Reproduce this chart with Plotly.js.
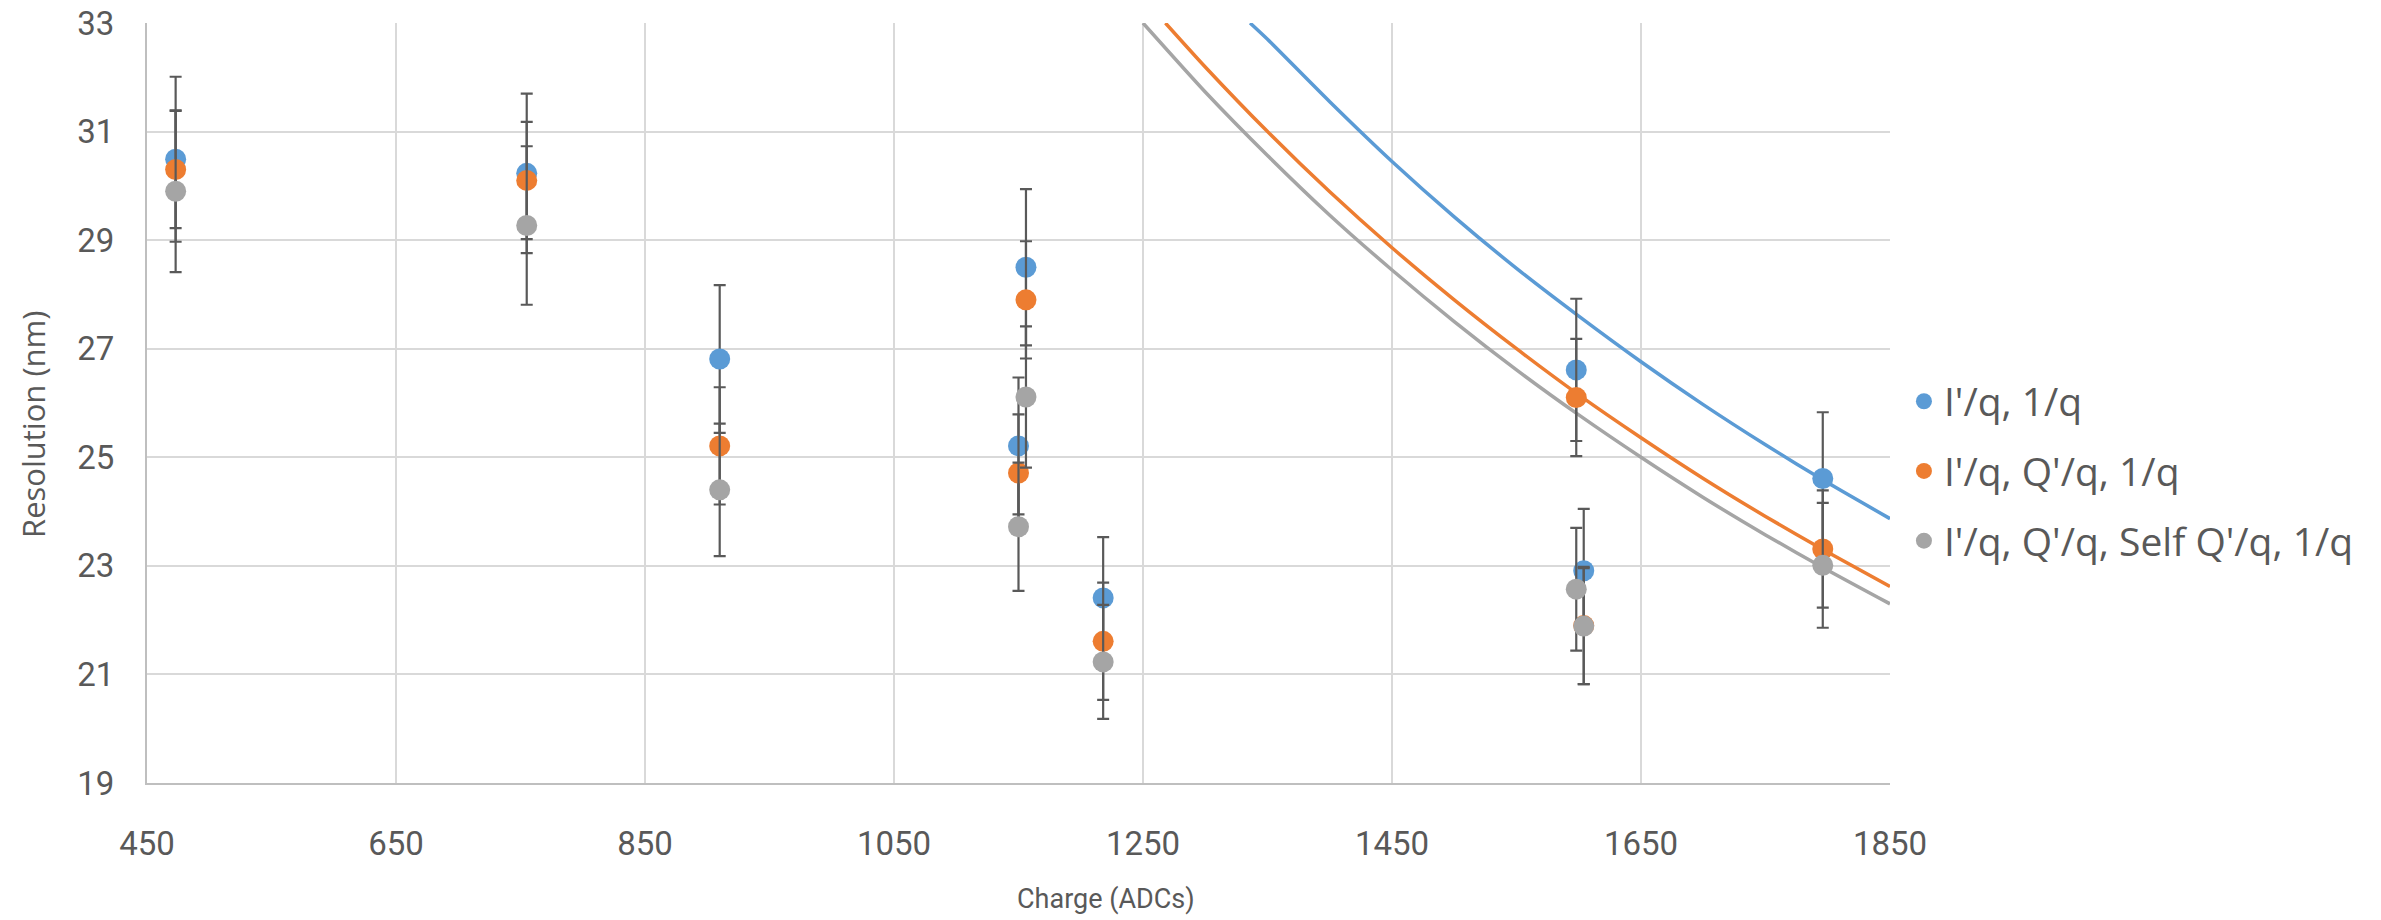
<!DOCTYPE html>
<html>
<head>
<meta charset="utf-8">
<script src="https://cdn.plot.ly/plotly-3.0.1.min.js"></script>
<style>
html, body { margin: 0; padding: 0; background: #ffffff; }
#chart { width: 2381px; height: 920px; }
</style>
</head>
<body>
<div id="chart"></div>
<script>
// ---- Data ----
const seriesNames = ["I'/q, 1/q", "I'/q, Q'/q, 1/q", "I'/q, Q'/q, Self Q'/q, 1/q"];

const chargeX = [473, 755, 910, 1156, 1150, 1218, 1598, 1604, 1796];

const blueY   = [30.49, 30.23, 26.81, 28.50, 25.21, 22.41, 26.61, 22.91, 24.61];
const blueErr = [1.52, 1.47, 1.36, 1.44, 1.26, 1.12, 1.31, 1.14, 1.22];

const orangeY   = [30.30, 30.10, 25.21, 27.90, 24.71, 21.61, 26.10, 21.90, 23.31];
const orangeErr = [1.08, 1.08, 1.08, 1.08, 1.08, 1.08, 1.08, 1.08, 1.08];

const grayY   = [29.90, 29.27, 24.40, 26.11, 23.72, 21.23, 22.57, 21.89, 23.01];
const grayErr = [1.49, 1.46, 1.22, 1.30, 1.18, 1.05, 1.13, 1.07, 1.15];

// Trend curves
const blueFitX = [1336, 1350, 1400, 1450, 1500, 1550, 1600, 1650, 1700, 1750, 1800, 1850];
const blueFitY = [33.0, 32.70, 31.55, 30.45, 29.43, 28.48, 27.60, 26.76, 25.97, 25.23, 24.53, 23.87];

const orangeFitX = [1268, 1300, 1350, 1400, 1450, 1500, 1550, 1600, 1650, 1700, 1750, 1800, 1850];
const orangeFitY = [33.0, 32.19, 31.00, 29.89, 28.86, 27.90, 27.00, 26.15, 25.36, 24.61, 23.91, 23.25, 22.62];

const grayFitX = [1250, 1300, 1350, 1400, 1450, 1500, 1550, 1600, 1650, 1700, 1750, 1800, 1850];
const grayFitY = [33.0, 31.73, 30.56, 29.46, 28.45, 27.50, 26.61, 25.78, 25.00, 24.26, 23.57, 22.92, 22.30];

const xTicks = [450, 650, 850, 1050, 1250, 1450, 1650, 1850];
const yTicks = [19, 21, 23, 25, 27, 29, 31, 33];

const xTitle = "Charge (ADCs)";
const yTitle = "Resolution (nm)";

// ---- Styles ----
const colors = ["#5B9BD5", "#ED7D31", "#A5A5A5"];
const textColor = "#595959";
const narrow = "Roboto, Liberation Sans, sans-serif";
const wide = "Open Sans, Lato, sans-serif";

function fit(x, y, c) {
  return { x: x, y: y, type: "scatter", mode: "lines",
    line: { color: c, width: 3.5, shape: "spline", smoothing: 0.6 },
    showlegend: false, hoverinfo: "skip" };
}
function pts(name, y, err, c, g) {
  return { x: chargeX, y: y, name: name, type: "scatter", mode: "markers",
    legendgroup: g,
    marker: { color: c, size: 21 },
    error_y: { type: "data", array: err, visible: true, color: "#595959", thickness: 2.2, width: 6 } };
}

const data = [
  fit(blueFitX, blueFitY, colors[0]),
  fit(orangeFitX, orangeFitY, colors[1]),
  fit(grayFitX, grayFitY, colors[2]),
  pts(seriesNames[0], blueY, blueErr, colors[0], "a"),
  pts(seriesNames[1], orangeY, orangeErr, colors[1], "b"),
  pts(seriesNames[2], grayY, grayErr, colors[2], "c")
];

const layout = {
  width: 2381, height: 920,
  paper_bgcolor: "#ffffff", plot_bgcolor: "#ffffff",
  margin: { l: 147, r: 491, t: 23, b: 137 },
  font: { family: narrow, color: textColor, size: 30 },
  showlegend: true,
  legend: { x: 1.008, xanchor: "left", xref: "paper", y: 0.41, yanchor: "middle",
    font: { family: wide, size: 39, color: textColor },
    tracegroupgap: 16, itemwidth: 30, bgcolor: "rgba(0,0,0,0)" },
  xaxis: {
    range: [450, 1850], tickvals: xTicks, ticktext: xTicks.map(String),
    showgrid: true, gridcolor: "#D9D9D9", gridwidth: 2,
    showline: true, linecolor: "#BFBFBF", linewidth: 2, mirror: false,
    zeroline: false, ticks: "", ticklen: 0, ticklabelstandoff: 30,
    tickfont: { family: narrow, size: 33, color: textColor }
  },
  yaxis: {
    range: [19, 33], tickvals: yTicks, ticktext: yTicks.map(String),
    showgrid: true, gridcolor: "#D9D9D9", gridwidth: 2,
    showline: true, linecolor: "#BFBFBF", linewidth: 2,
    zeroline: false, ticks: "", ticklen: 0, ticklabelstandoff: 24,
    tickfont: { family: narrow, size: 33, color: textColor }
  },
  annotations: [
    { text: xTitle, xref: "paper", yref: "paper", x: 0.55, y: -0.152, xanchor: "center", yanchor: "middle",
      showarrow: false, font: { family: narrow, size: 27, color: textColor } },
    { text: yTitle, xref: "paper", yref: "paper", x: -0.065, xanchor: "center",
      y: 0.472, yanchor: "middle", textangle: -90,
      showarrow: false, font: { family: wide, size: 31, color: textColor } }
  ]
};

Plotly.newPlot("chart", data, layout, { displayModeBar: false, staticPlot: true });
</script>
</body>
</html>
